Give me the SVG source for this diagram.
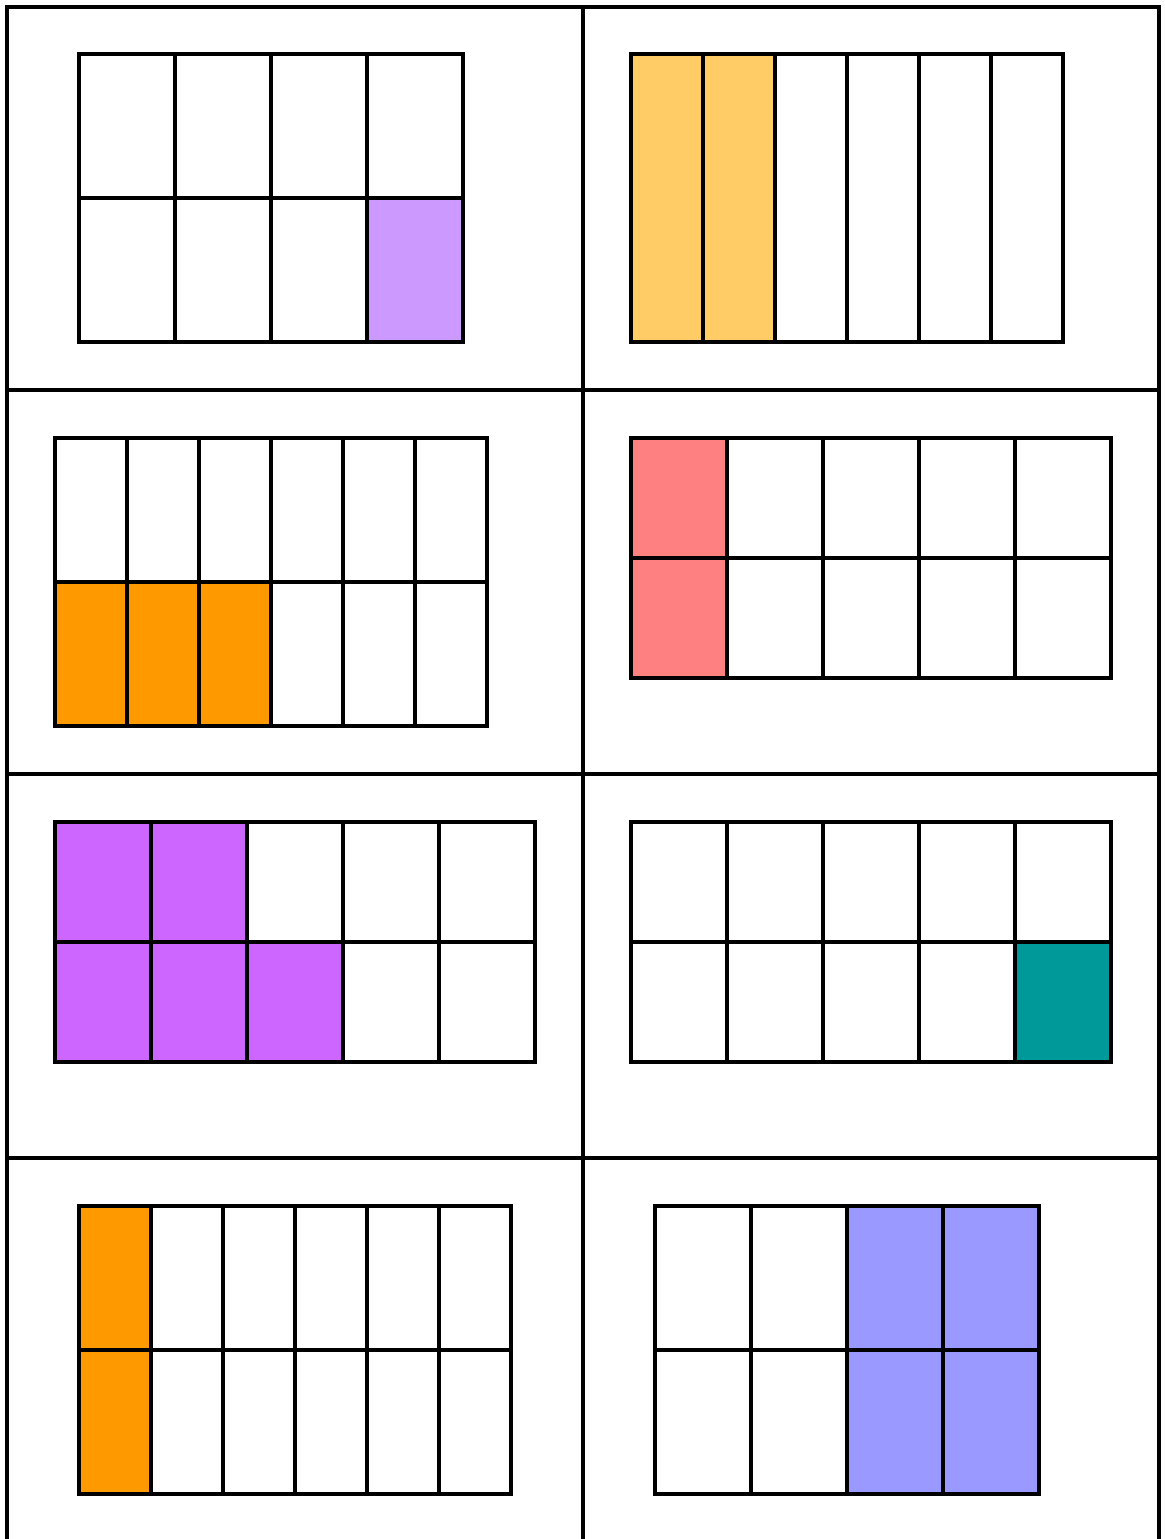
<svg xmlns="http://www.w3.org/2000/svg" width="1165" height="1539" viewBox="0 0 1165 1539">
<style>
.c{fill:#FFFFFF;stroke:#000;stroke-width:4}
.f{stroke:#000;stroke-width:4}
.frame{stroke:#000;stroke-width:4;fill:none}
</style>
<rect x="0" y="0" width="1165" height="1539" fill="#FFFFFF"/>
<g id="frame">
<path class="frame" d="M7,1539 V7 H1159 V1539 M583,7 V1539 M7,390 H1159 M7,774 H1159 M7,1158 H1159"/>
</g>
<g id="panel1">
<rect class="c" x="79" y="54" width="96" height="144"/><rect class="c" x="175" y="54" width="96" height="144"/><rect class="c" x="271" y="54" width="96" height="144"/><rect class="c" x="367" y="54" width="96" height="144"/>
<rect class="c" x="79" y="198" width="96" height="144"/><rect class="c" x="175" y="198" width="96" height="144"/><rect class="c" x="271" y="198" width="96" height="144"/><rect class="f" fill="#CC99FF" x="367" y="198" width="96" height="144"/>
</g>
<g id="panel2">
<rect class="f" fill="#FFCC66" x="631" y="54" width="72" height="288"/><rect class="f" fill="#FFCC66" x="703" y="54" width="72" height="288"/><rect class="c" x="775" y="54" width="72" height="288"/><rect class="c" x="847" y="54" width="72" height="288"/><rect class="c" x="919" y="54" width="72" height="288"/><rect class="c" x="991" y="54" width="72" height="288"/>
</g>
<g id="panel3">
<rect class="c" x="55" y="438" width="72" height="144"/><rect class="c" x="127" y="438" width="72" height="144"/><rect class="c" x="199" y="438" width="72" height="144"/><rect class="c" x="271" y="438" width="72" height="144"/><rect class="c" x="343" y="438" width="72" height="144"/><rect class="c" x="415" y="438" width="72" height="144"/>
<rect class="f" fill="#FF9900" x="55" y="582" width="72" height="144"/><rect class="f" fill="#FF9900" x="127" y="582" width="72" height="144"/><rect class="f" fill="#FF9900" x="199" y="582" width="72" height="144"/><rect class="c" x="271" y="582" width="72" height="144"/><rect class="c" x="343" y="582" width="72" height="144"/><rect class="c" x="415" y="582" width="72" height="144"/>
</g>
<g id="panel4">
<rect class="f" fill="#FF8080" x="631" y="438" width="96" height="120"/><rect class="c" x="727" y="438" width="96" height="120"/><rect class="c" x="823" y="438" width="96" height="120"/><rect class="c" x="919" y="438" width="96" height="120"/><rect class="c" x="1015" y="438" width="96" height="120"/>
<rect class="f" fill="#FF8080" x="631" y="558" width="96" height="120"/><rect class="c" x="727" y="558" width="96" height="120"/><rect class="c" x="823" y="558" width="96" height="120"/><rect class="c" x="919" y="558" width="96" height="120"/><rect class="c" x="1015" y="558" width="96" height="120"/>
</g>
<g id="panel5">
<rect class="f" fill="#CC66FF" x="55" y="822" width="96" height="120"/><rect class="f" fill="#CC66FF" x="151" y="822" width="96" height="120"/><rect class="c" x="247" y="822" width="96" height="120"/><rect class="c" x="343" y="822" width="96" height="120"/><rect class="c" x="439" y="822" width="96" height="120"/>
<rect class="f" fill="#CC66FF" x="55" y="942" width="96" height="120"/><rect class="f" fill="#CC66FF" x="151" y="942" width="96" height="120"/><rect class="f" fill="#CC66FF" x="247" y="942" width="96" height="120"/><rect class="c" x="343" y="942" width="96" height="120"/><rect class="c" x="439" y="942" width="96" height="120"/>
</g>
<g id="panel6">
<rect class="c" x="631" y="822" width="96" height="120"/><rect class="c" x="727" y="822" width="96" height="120"/><rect class="c" x="823" y="822" width="96" height="120"/><rect class="c" x="919" y="822" width="96" height="120"/><rect class="c" x="1015" y="822" width="96" height="120"/>
<rect class="c" x="631" y="942" width="96" height="120"/><rect class="c" x="727" y="942" width="96" height="120"/><rect class="c" x="823" y="942" width="96" height="120"/><rect class="c" x="919" y="942" width="96" height="120"/><rect class="f" fill="#009999" x="1015" y="942" width="96" height="120"/>
</g>
<g id="panel7">
<rect class="f" fill="#FF9900" x="79" y="1206" width="72" height="144"/><rect class="c" x="151" y="1206" width="72" height="144"/><rect class="c" x="223" y="1206" width="72" height="144"/><rect class="c" x="295" y="1206" width="72" height="144"/><rect class="c" x="367" y="1206" width="72" height="144"/><rect class="c" x="439" y="1206" width="72" height="144"/>
<rect class="f" fill="#FF9900" x="79" y="1350" width="72" height="144"/><rect class="c" x="151" y="1350" width="72" height="144"/><rect class="c" x="223" y="1350" width="72" height="144"/><rect class="c" x="295" y="1350" width="72" height="144"/><rect class="c" x="367" y="1350" width="72" height="144"/><rect class="c" x="439" y="1350" width="72" height="144"/>
</g>
<g id="panel8">
<rect class="c" x="655" y="1206" width="96" height="144"/><rect class="c" x="751" y="1206" width="96" height="144"/><rect class="f" fill="#9999FF" x="847" y="1206" width="96" height="144"/><rect class="f" fill="#9999FF" x="943" y="1206" width="96" height="144"/>
<rect class="c" x="655" y="1350" width="96" height="144"/><rect class="c" x="751" y="1350" width="96" height="144"/><rect class="f" fill="#9999FF" x="847" y="1350" width="96" height="144"/><rect class="f" fill="#9999FF" x="943" y="1350" width="96" height="144"/>
</g>
</svg>
